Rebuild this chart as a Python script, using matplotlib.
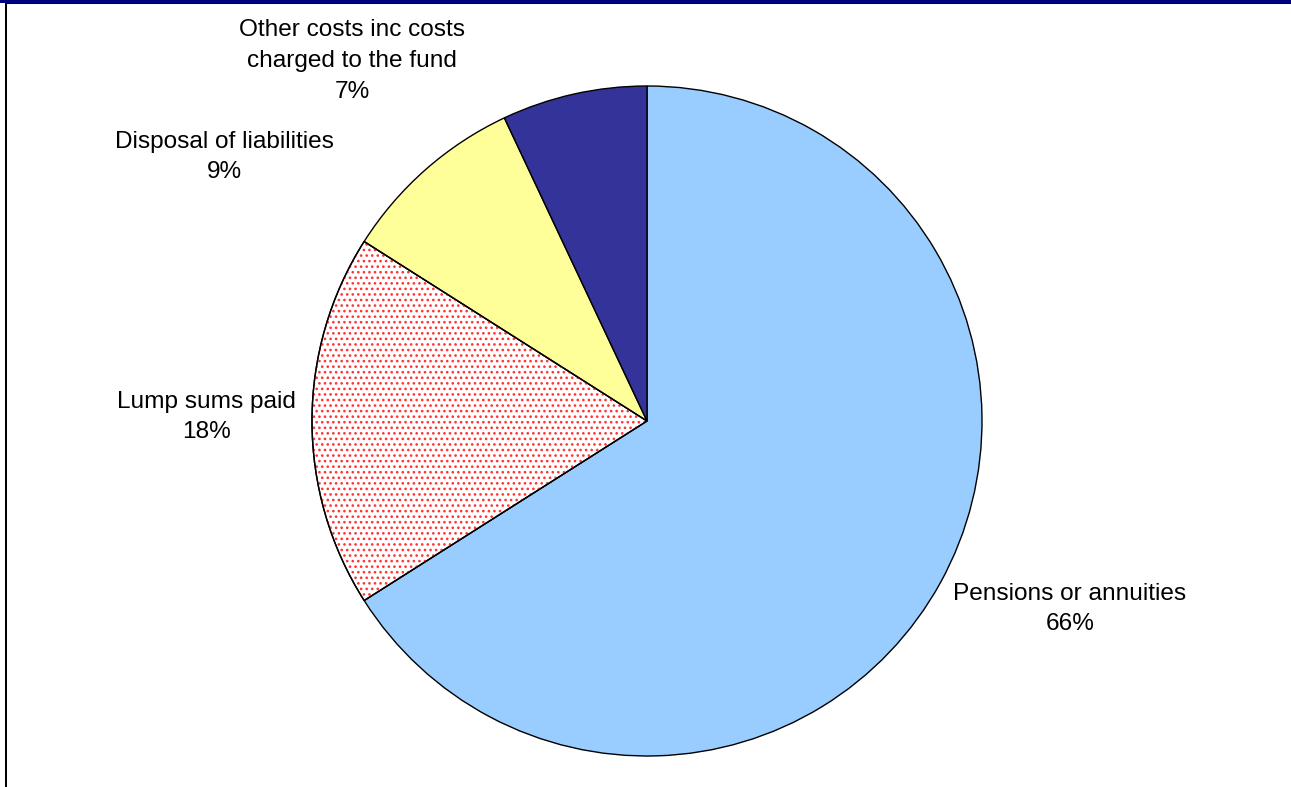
import matplotlib
matplotlib.use("Agg")
import matplotlib.pyplot as plt
from matplotlib.patches import Rectangle, Wedge

plt.rcParams['font.family'] = ['Liberation Sans', 'DejaVu Sans']

# Breakdown of fund expenditure
categories = ["Pensions or annuities", "Lump sums paid", "Disposal of liabilities",
              "Other costs inc costs\ncharged to the fund"]
shares = [66, 18, 9, 7]
pct_labels = ["66%", "18%", "9%", "7%"]

W, H = 1291, 787
fig = plt.figure(figsize=(W / 100, H / 100), dpi=100)
ax = fig.add_axes([0, 0, 1, 1])

cx, cy, r = 647, H - 421, 335
face = ["#99CCFF", "white", "#FFFF99", "#333399"]
wedges, _ = ax.pie(shares, center=(cx, cy), radius=r, startangle=90,
                   counterclock=False, colors=face,
                   wedgeprops=dict(edgecolor="black", linewidth=1.0))

# red dotted fill for the lump-sum slice
plt.rcParams['hatch.linewidth'] = 1.1
lump = wedges[1]
dots = Wedge(lump.center, lump.r, lump.theta1, lump.theta2, facecolor="none",
             edgecolor="#FF3333", hatch="...", linewidth=0, zorder=lump.get_zorder() + 0.1)
ax.add_patch(dots)
outline = Wedge(lump.center, lump.r, lump.theta1, lump.theta2, facecolor="none",
                edgecolor="black", linewidth=1.0, zorder=lump.get_zorder() + 0.2)
ax.add_patch(outline)

ax.set_xlim(0, W)
ax.set_ylim(0, H)
ax.set_aspect("auto")
ax.axis("off")

label_pos = [(1070, 609), (206, 417), (224, 157), (352, 61)]
for name, pct, (lx, ly) in zip(categories, pct_labels, label_pos):
    ax.text(lx, H - ly, f"{name}\n{pct}", ha="center", va="center",
            fontsize=17.6, linespacing=1.5, color="black")

# frame: navy band along the top, thin black rules
fig.add_artist(Rectangle((0, 1 - 3 / H), 1, 3 / H, transform=fig.transFigure,
                         facecolor="#000080", edgecolor="none"))
fig.add_artist(Rectangle((5 / W, 1 - 4 / H), 1 - 5 / W, 1 / H, transform=fig.transFigure,
                         facecolor="black", edgecolor="none"))
fig.add_artist(Rectangle((5 / W, 0), 2 / W, 1 - 3 / H, transform=fig.transFigure,
                         facecolor="black", edgecolor="none"))

fig.savefig("out.png", dpi=100, facecolor="white")
